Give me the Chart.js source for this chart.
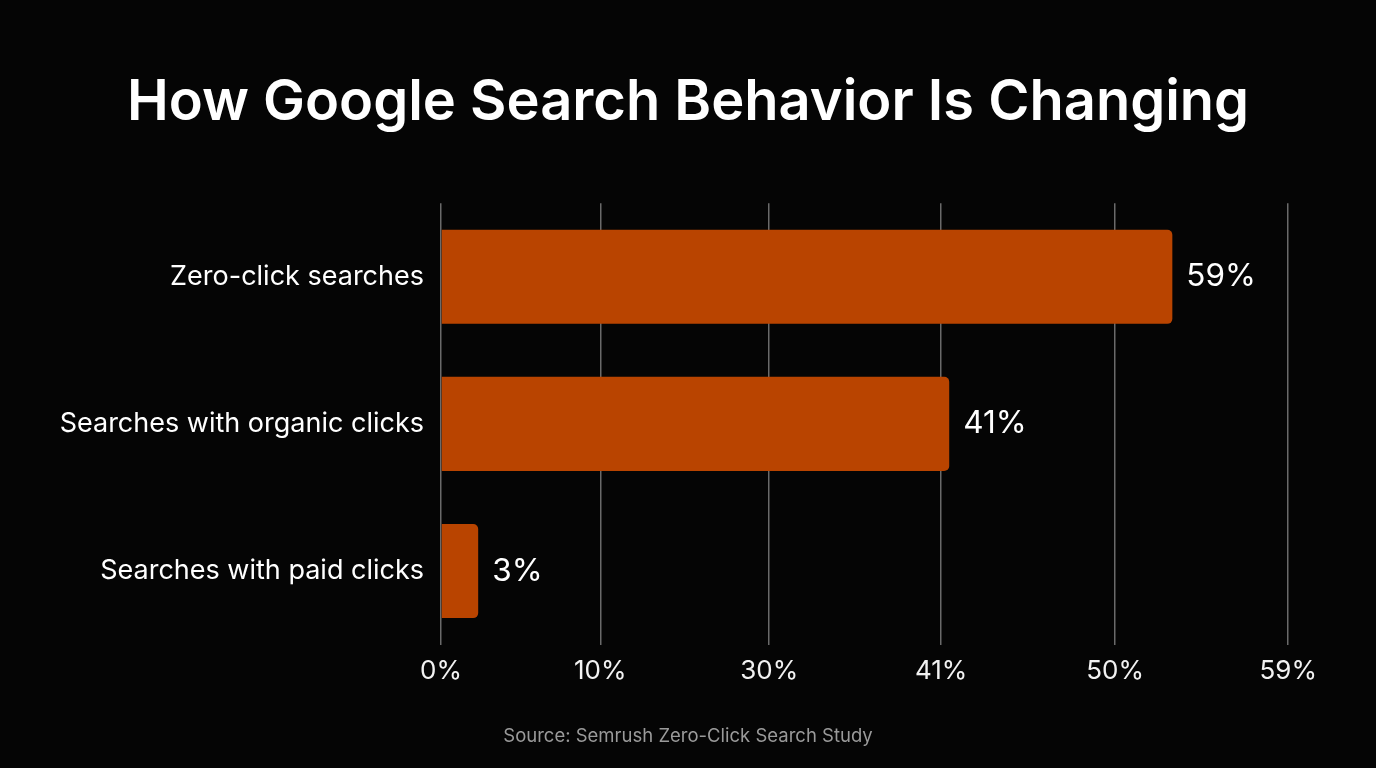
<!DOCTYPE html>
<html>
<head>
<meta charset="utf-8">
<title>How Google Search Behavior Is Changing</title>
<script src="https://cdn.jsdelivr.net/npm/chart.js@4.4.1/dist/chart.umd.min.js"></script>
<style>
  html, body { margin: 0; padding: 0; background: #050505; }
  #wrap { position: relative; width: 1376px; height: 768px; }
</style>
</head>
<body>
<div id="wrap"><canvas id="searchChart"></canvas></div>
<script>
// chart data
const categories = ['Zero-click searches', 'Searches with organic clicks', 'Searches with paid clicks'];
const shares = [59, 41, 3];
const valueLabels = ['59%', '41%', '3%'];

// the axis ticks in the source sit at uneven positions with their own labels
const tickValues = [0, 12.85, 26.48, 40.35, 54.38, 68.35];
const tickLabels = ['0%', '10%', '30%', '41%', '50%', '59%'];

const valueLabelPlugin = {
  id: 'valueLabels',
  afterDatasetsDraw(chart) {
    const ctx = chart.ctx;
    const meta = chart.getDatasetMeta(0);
    ctx.save();
    ctx.fillStyle = '#ffffff';
    ctx.font = '31.5px Inter';
    ctx.textAlign = 'left';
    ctx.textBaseline = 'middle';
    meta.data.forEach(function(bar, i) {
      ctx.fillText(valueLabels[i], bar.x + 14, bar.y);
    });
    ctx.restore();
  }
};

document.addEventListener('DOMContentLoaded', function() {
  const ctx = document.getElementById('searchChart').getContext('2d');
  new Chart(ctx, {
    type: 'bar',
    data: {
      labels: categories,
      datasets: [{
        data: shares,
        backgroundColor: '#b94400',
        borderRadius: 5,
        borderSkipped: 'start',
        barPercentage: 0.64,
        categoryPercentage: 1
      }]
    },
    options: {
      indexAxis: 'y',
      responsive: true,
      maintainAspectRatio: false,
      animation: false,
      layout: { padding: 0 },
      plugins: {
        legend: { display: false },
        tooltip: { enabled: false },
        title: {
          display: true,
          text: 'How Google Search Behavior Is Changing',
          color: '#ffffff',
          font: { family: 'Inter', size: 56, weight: '600', lineHeight: 1.2 },
          padding: { top: 70, bottom: 66 }
        },
        subtitle: {
          display: true,
          position: 'bottom',
          text: 'Source: Semrush Zero-Click Search Study',
          color: '#9a9a9a',
          font: { family: 'Inter', size: 18.5, lineHeight: 1.2 },
          padding: { top: 28, bottom: 20 }
        }
      },
      scales: {
        x: {
          min: 0,
          max: 75.43,
          afterBuildTicks: function(scale) {
            scale.ticks = tickValues.map(v => ({ value: v }));
          },
          grid: { color: '#6a6a6a', lineWidth: 1.5, drawTicks: false },
          border: { display: false },
          ticks: {
            color: '#f2f2f2',
            padding: 11,
            font: { family: 'Inter', size: 26, lineHeight: 1.2 },
            callback: function(value, index) { return tickLabels[index]; }
          }
        },
        y: {
          afterFit: function(scale) { scale.width = 441; },
          grid: { display: false, drawTicks: false },
          border: { display: false },
          ticks: {
            color: '#ffffff',
            padding: 17,
            font: { family: 'Inter', size: 27 }
          }
        }
      }
    },
    plugins: [valueLabelPlugin]
  });
});
</script>
</body>
</html>
